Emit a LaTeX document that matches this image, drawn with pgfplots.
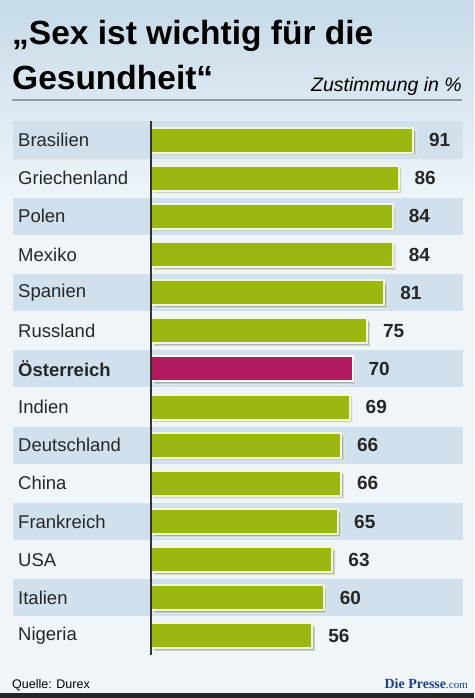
\documentclass[border=0pt]{standalone}
\usepackage{fontspec}
\setmainfont{Liberation Sans}
\newfontfamily\condfont{Liberation Sans}[FakeStretch=0.86]
\newfontfamily\logofont{Liberation Serif}
\usepackage{pgfplots}
\pgfplotsset{compat=1.18}
\usepackage{pgfplotstable}
\usetikzlibrary{shadows}
\definecolor{barGreen}{HTML}{9BB712}
\definecolor{barRed}{HTML}{B01A5C}
\definecolor{band}{HTML}{D0E1ED}
\definecolor{bgLight}{HTML}{EFF5F9}
\definecolor{bgTop}{HTML}{C6DAE8}
\definecolor{rim}{HTML}{F3F7DA}
\definecolor{presse}{HTML}{1D3F8C}
\definecolor{rule}{HTML}{8D9BA5}

\pgfplotstableread{
idx val
0 91
1 86
2 84
3 84
4 81
5 75
7 69
8 66
9 66
10 65
11 63
12 60
13 56
}\greendata
\pgfplotstableread{
idx val
6 70
}\austriadata

\begin{document}
\begin{tikzpicture}
\useasboundingbox (0pt,0pt) rectangle (474pt,-698pt);
% background
\fill[bgLight] (0pt,0pt) rectangle (474pt,-698pt);
\shade[top color=bgTop, bottom color=bgLight] (0pt,0pt) rectangle (474pt,-200pt);
% bottom black strip
\fill[black!85] (0pt,-693pt) rectangle (474pt,-698pt);
% title
\node[anchor=base west, inner sep=0pt] at (12pt,-45pt)
  {\bfseries\fontsize{33.5}{33.5}\selectfont „Sex ist wichtig für die};
\node[anchor=base west, inner sep=0pt] at (12pt,-90pt)
  {\bfseries\fontsize{33.5}{33.5}\selectfont Gesundheit“};
\node[anchor=base east, inner sep=0pt] at (462pt,-92pt)
  {\itshape\fontsize{19.5}{19.5}\selectfont Zustimmung in \%};
\draw[rule, line width=1.5pt] (12pt,-100pt) -- (462pt,-100pt);
% row bands
\foreach \i in {0,2,...,12} {
  \fill[band] (13pt,{-(121.5+38.15*\i)*1pt}) rectangle (463pt,{-(158.5+38.15*\i)*1pt});
}
% footer
\node[anchor=base west, inner sep=0pt] at (12pt,-688pt)
  {\fontsize{12.5}{12.5}\selectfont Quelle: Durex};
\node[anchor=base east, inner sep=0pt, text=presse] at (468pt,-688pt)
  {\logofont\fontsize{14}{14}\selectfont\textbf{Die Presse}\fontsize{11}{11}\selectfont.com};
\begin{axis}[
  at={(151pt,-121pt)}, anchor=north west,
  scale only axis, width=288pt, height=534pt,
  xmin=0, xmax=100, ymin=-0.5, ymax=13.5, y dir=reverse,
  axis x line=none, axis y line*=left,
  axis line style={black!80, line width=1.6pt},
  axis on top,
  xbar, bar width=25pt, bar shift=0pt,
  ytick={0,...,13},
  yticklabels={Brasilien,Griechenland,Polen,Mexiko,Spanien,Russland,\textbf{Österreich},Indien,Deutschland,China,Frankreich,USA,Italien,Nigeria},
  major tick length=0pt,
  yticklabel style={anchor=west, inner sep=0pt, xshift=-133pt, font=\fontsize{18.5}{18.5}\selectfont, text=black!85},
  clip=false,
  nodes near coords,
  point meta=explicit,
  /pgf/number format/assume math mode=true,
  every node near coord/.append style={anchor=west, inner sep=0pt, xshift=15pt, font=\bfseries\fontsize{19}{19}\selectfont, text=black!85},
]
\addplot[fill=barGreen, draw=rim, line width=2pt,
  drop shadow={shadow xshift=2.5pt, shadow yshift=-2.5pt, opacity=0.45, fill=black!60}]
  table[x=val, y=idx, meta=val] {\greendata};
\addplot[fill=barRed, draw=rim!40!white, line width=2pt,
  drop shadow={shadow xshift=2.5pt, shadow yshift=-2.5pt, opacity=0.45, fill=black!60}]
  table[x=val, y=idx, meta=val] {\austriadata};
\end{axis}
\end{tikzpicture}
\end{document}
